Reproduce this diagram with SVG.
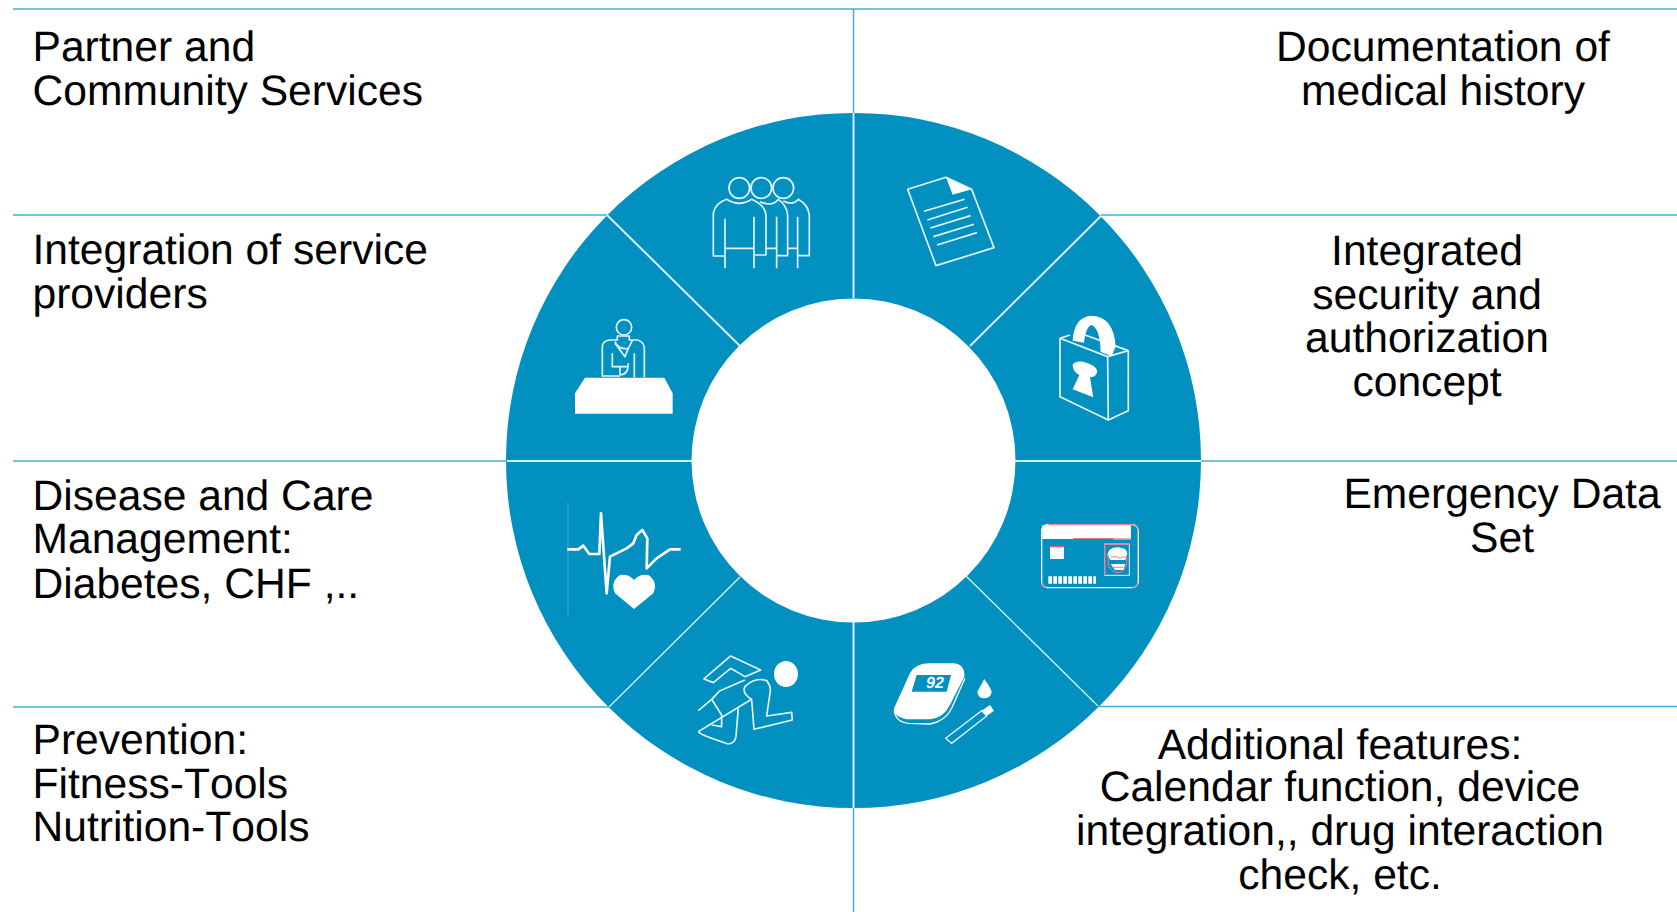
<svg xmlns="http://www.w3.org/2000/svg" width="1677" height="912" viewBox="0 0 1677 912">
<style>
text{font-family:"Liberation Sans",Arial,sans-serif;font-size:42.6px;fill:#000;font-kerning:none;text-rendering:geometricPrecision}
.m{text-anchor:middle}
.l{stroke:#3fb0d8;stroke-width:1.5;fill:none}
.w{stroke:#d8f0f8;fill:none}
.i{fill:none;stroke:#e4f4fa;stroke-width:5;stroke-linejoin:round;stroke-linecap:butt}
.f{fill:#fff;stroke:none}
</style>
<rect width="1677" height="912" fill="#fff"/>
<g id="ring"><path fill="#0290c0" fill-rule="evenodd" d="M506 460.500a347.500 347.500 0 1 0 695 0a347.500 347.500 0 1 0 -695 0zM691.500 460.500a162 162 0 1 1 324 0a162 162 0 1 1 -324 0z"/></g>
<g id="connectors">
<path class="l" d="M13 9H1677M853.500 9V113M853.500 808V912M13 215H607M1101 215H1677M13 461H507M1015 461H1677M13 707H609M1098 706.500H1677"/>
<path class="w" stroke-width="2" d="M853.500 113V298M853.500 622V808M507 461H692M1015 461H1201M607 215L740 346M1101 216L970 346"/>
<path class="w" stroke-width="1.300" d="M740 577L609 707M966 576L1098 706"/>
</g>
<g id="n1"><text x="32.500" y="61">Partner and</text><text x="32.500" y="105">Community Services</text>
<g transform="translate(500 100) scale(.3333)"><circle class="i" cx="718" cy="264" r="31"/><circle class="i" cx="784" cy="264" r="31"/><circle class="i" cx="850" cy="264" r="31"/>
<path class="i" d="M672 468H640V340Q645 310 680 298Q718 322 755 298Q795 315 798 345V465H765M675 356V505M762 350V505M675 445H762M780 305Q818 322 835 298Q860 315 863 345V467H830M830 350V505M798 445H828M850 303Q880 318 895 298Q925 315 928 345V467H895M893 350V505M863 445H893"/></g></g>
<g id="n2"><text x="32.500" y="264">Integration of service</text><text x="32.500" y="308">providers</text>
<g transform="translate(500 100) scale(.3333)"><circle class="i" cx="372" cy="682" r="23"/>
<path class="i" d="M307 830V740Q308 722 330 720H352V708H388V720H412Q432 725 433 745V832M345 725Q355 750 385 745L397 722M385 745L375 770L345 730M337 760V800H385M360 800V825M385 790Q385 825 360 825M307 828H360M403 760V832"/>
<polygon class="f" points="255,833 493,833 518,880 518,941 225,941 225,880"/></g></g>
<g id="n3"><text x="32.500" y="510">Disease and Care</text><text x="32.500" y="553">Management:</text><text x="32.500" y="598">Diabetes, CHF ,..</text>
<g transform="translate(500 460) scale(.3333)"><path d="M204 127V465" fill="none" stroke="#4aabd6" stroke-width="3"/>
<path fill="none" stroke="#fff" stroke-width="8" stroke-linejoin="round" d="M202 268L235 268L250 257L268 282L298 282L303 160L320 400L330 290L380 265L400 250L410 225L427 210L442 235L440 325L470 295L510 268L542 268"/>
<path class="f" d="M402 447L345 400Q330 365 360 345Q385 340 402 360Q420 340 445 345Q475 365 460 400Z"/></g></g>
<g id="n4"><text x="32.500" y="754">Prevention:</text><text x="32.500" y="798">Fitness-Tools</text><text x="32.500" y="841">Nutrition-Tools</text>
<g transform="translate(500 460) scale(.3333)"><ellipse class="f" cx="858" cy="642" rx="36" ry="39"/>
<path class="i" d="M612 657L692 588L782 630L735 650L692 625L640 668ZM595 752L635 718L660 692L735 660M635 718L665 765V800L635 795M595 815L755 718M595 815Q600 825 685 852Q705 850 708 830L715 745M755 718Q725 700 735 680Q765 650 800 662Q815 680 810 700L800 768L875 757L877 780L762 808L755 718"/></g></g>
<g id="n5"><text class="m" x="1443" y="61">Documentation of</text><text class="m" x="1443" y="105">medical history</text>
<g transform="translate(850 100) scale(.3333)"><polygon class="i" points="173,268 288,232 365,268 432,443 258,497"/><polygon class="f" points="288,232 365,268 308,284"/>
<path class="i" d="M222 334L344 298M232 360L353 322M241 384L362 347M250 410L372 373M261 435L381 398"/></g></g>
<g id="n6"><text class="m" x="1427" y="265">Integrated</text><text class="m" x="1427" y="309">security and</text><text class="m" x="1427" y="352">authorization</text><text class="m" x="1427" y="396">concept</text>
<g transform="translate(850 100) scale(.3333)"><path class="i" d="M630 715L773 770L775 960L630 890ZM773 770L835 752V932L775 960M630 715L660 705M705 705L835 752"/>
<path class="f" d="M668 722Q672 650 725 647Q792 650 797 740L785 768L752 756Q750 685 725 675Q708 678 702 728Z"/>
<path class="f" d="M668 795Q672 782 700 785Q740 795 742 815Q738 832 720 832L730 892L668 868L688 825Q668 815 668 795Z"/></g></g>
<g id="n7"><text class="m" x="1502" y="508">Emergency Data</text><text class="m" x="1502" y="552">Set</text>
<g transform="translate(850 460) scale(.3333)"><rect x="575" y="194" width="290" height="189" rx="18" fill="none" stroke="#fff" stroke-width="4"/>
<path d="M845 383Q862 383 865 368M575 368Q577 380 590 383M845 194Q862 196 865 212M595 194H845" fill="none" stroke="#f08a96" stroke-width="4"/>
<rect class="f" x="577" y="196" width="266" height="41"/><path d="M670 237H790" stroke="#d9465a" stroke-width="5"/><path d="M790 237H843" stroke="#eb9aa5" stroke-width="5"/>
<rect class="f" x="600" y="258" width="42" height="39"/><path d="M600 260H642" stroke="#e8606f" stroke-width="4"/>
<path d="M595 360H738" stroke="#fff" stroke-width="23" stroke-dasharray="11 4" fill="none"/>
<rect x="764" y="252" width="74" height="94" fill="none" stroke="#e4f4fa" stroke-width="3"/><path d="M764 346V252H838" fill="none" stroke="#ef7f8c" stroke-width="4"/>
<path class="f" d="M772 288Q772 262 805 262Q832 264 832 282L826 300H782Z"/><path class="f" d="M782 312H826L820 330H795Z"/>
<path d="M775 285V315Q785 338 805 338Q827 335 830 312V285M782 292Q795 286 810 294Q820 288 830 292M788 322H820" fill="none" stroke="#ef7f8c" stroke-width="3"/></g></g>
<g id="n8"><text class="m" x="1340" y="758.500">Additional features:</text><text class="m" x="1340" y="801">Calendar function, device</text><text class="m" x="1340" y="845">integration,, drug interaction</text><text class="m" x="1340" y="889">check, etc.</text>
<g transform="translate(850 460) scale(.3333)"><path fill="none" stroke="#fff" stroke-width="4" d="M133 750Q135 785 175 790L240 792Q285 785 305 745L345 655"/>
<path class="f" d="M132 745L180 640Q195 610 240 610L310 610Q345 612 343 650L300 735Q280 775 240 778L170 778Q130 770 132 745Z"/>
<polygon points="200,645 303,645 290,695 185,695" fill="#0290c0"/><text x="228" y="685" style="font-size:48px;font-weight:bold;font-style:italic;fill:#f4fbfe">92</text>
<path class="f" d="M403 657Q385 690 382 695Q385 715 403 715Q425 712 425 695Q420 680 403 657Z"/>
<polygon class="f" points="395,752 420,735 432,752 410,768"/><polygon points="287,835 395,752 410,768 305,850" fill="none" stroke="#e4f4fa" stroke-width="4"/></g></g>
</svg>
